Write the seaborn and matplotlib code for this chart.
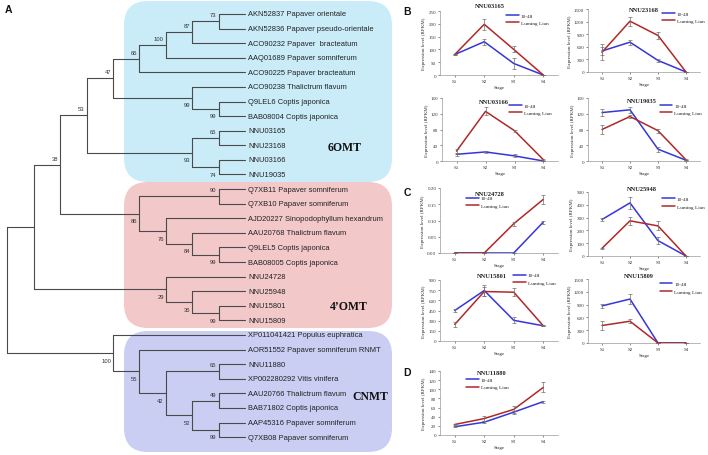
import matplotlib
matplotlib.use("Agg")
import matplotlib.pyplot as plt
from matplotlib.patches import FancyBboxPatch
from matplotlib.lines import Line2D
import numpy as np
import pandas as pd
import seaborn as sns

# ---------------- data: tree ----------------
leaf_names = [
    "AKN52837 Papaver orientale", "AKN52836 Papaver pseudo-orientale",
    "ACO90232 Papaver  bracteatum", "AAQ01689 Papaver somniferum",
    "ACO90225 Papaver bracteatum", "ACO90238 Thalictrum flavum",
    "Q9LEL6 Coptis japonica", "BAB08004 Coptis japonica",
    "NNU03165", "NNU23168", "NNU03166", "NNU19035",
    "Q7XB11 Papaver somniferum", "Q7XB10 Papaver somniferum",
    "AJD20227 Sinopodophyllum hexandrum", "AAU20768 Thalictrum flavum",
    "Q9LEL5 Coptis japonica", "BAB08005 Coptis japonica",
    "NNU24728", "NNU25948", "NNU15801", "NNU15809",
    "XP011041421 Populus euphratica", "AOR51552 Papaver somniferum RNMT",
    "NNU11880", "XP002280292 Vitis vinifera",
    "AAU20766 Thalictrum flavum", "BAB71802 Coptis japonica",
    "AAP45316 Papaver somniferum", "Q7XB08 Papaver somniferum",
]
clade_6omt = "((((((0,1)73,2)87,3)100,4)66,(5,(6,7)99)99)47,((8,9)65,(10,11)74)93)53"
clade_4omt_a = "((12,13)90,(14,(15,(16,17)99)84)76)86"
clade_4omt_b = "(18,(19,(20,21)99)36)29"
clade_cnmt = "(22,(23,((24,25)65,((26,27)49,(28,29)99)52)42)55)100"
tree_newick = "(((" + clade_6omt + "," + clade_4omt_a + ")38," + clade_4omt_b + ")," + clade_cnmt + ")"
group_names = ["6OMT", "4\u2019OMT", "CNMT"]

# ---------------- data: expression ----------------
stages = ["S1", "S2", "S3", "S4"]
series_names = ["10-48", "Luming Lian"]
genes = ["NNU03165", "NNU23168", "NNU03166", "NNU19035", "NNU24728",
         "NNU25948", "NNU15801", "NNU15809", "NNU11880"]
v_1048 = [
    [80, 130, 45, 0], [500, 710, 275, 0], [17, 23, 13, 0], [123, 130, 30, 2],
    [0, 0, 0, 0.095], [285, 415, 120, 0], [450, 745, 305, 225],
    [870, 1030, 0, 0], [18, 28, 50, 73],
]
e_1048 = [
    [3, 12, 22, 0], [90, 60, 40, 0], [4, 2, 4, 0], [8, 7, 6, 1],
    [0, 0, 0, 0.005], [15, 45, 25, 0], [15, 80, 45, 10],
    [40, 120, 0, 0], [1, 2, 3, 2],
]
v_lml = [
    [80, 198, 100, 0], [470, 1210, 870, 0], [25, 126, 77, 3], [80, 113, 77, 3],
    [0, 0, 0.09, 0.165], [60, 275, 235, 0], [245, 730, 720, 225],
    [410, 510, 0, 0], [23, 36, 56, 104],
]
e_lml = [
    [3, 22, 12, 0], [190, 110, 80, 0], [6, 10, 3, 1], [12, 5, 5, 1],
    [0, 0, 0.006, 0.015], [5, 30, 35, 0], [35, 60, 60, 10],
    [100, 50, 0, 0], [2, 5, 8, 11],
]
y_max = [250, 1500, 160, 160, 0.2, 500, 900, 1500, 140]
y_step = [50, 300, 40, 40, 0.05, 100, 150, 300, 20]

# ---------------- style ----------------
sns.set_theme(style="white")
plt.rcParams["font.family"] = ["Liberation Sans", "DejaVu Sans"]

W, H = 708, 456
fig = plt.figure(figsize=(W / 100, H / 100), dpi=100)

# ---------------- tree panel ----------------
axT = fig.add_axes([0, 0, 1, 1])
axT.set_xlim(0, W)
axT.set_ylim(H, 0)
axT.axis("off")

boxes = [(124, 2, 268, 181, "#c9ecf8"), (124, 183, 268, 146, "#f3c8c9"),
         (124, 332, 268, 121, "#c9cef2")]
for bx, by, bw, bh, col in boxes:
    axT.add_patch(FancyBboxPatch((bx, by), bw, bh,
                                 boxstyle="round,pad=0,rounding_size=24",
                                 fc=col, ec="none", zorder=0))


def parse(s, i=0):
    if s[i] == "(":
        kids = []
        i += 1
        while True:
            child, i = parse(s, i)
            kids.append(child)
            if s[i] == ",":
                i += 1
                continue
            if s[i] == ")":
                i += 1
                break
        j = i
        while i < len(s) and s[i] not in ",)":
            i += 1
        return {"kids": kids, "sup": s[j:i]}, i
    j = i
    while s[i] not in ",)":
        i += 1
    return int(s[j:i]), i


root, _ = parse(tree_newick)
LEAF_X, STEP_X, Y0, STEP_Y = 245, 26.4, 15, 14.59
line_col = "#4a4a4a"


def layout(node):
    if isinstance(node, int):
        return LEAF_X, Y0 + STEP_Y * node, 0
    res = [layout(k) for k in node["kids"]]
    h = max(r[2] for r in res) + 1
    x = LEAF_X - STEP_X * h
    y = (res[0][1] + res[-1][1]) / 2
    axT.plot([x, x], [res[0][1], res[-1][1]], color=line_col, lw=0.8, zorder=2)
    for k_i, (cx, cy, _) in enumerate(res):
        axT.plot([x, cx], [cy, cy], color=line_col, lw=0.8, zorder=2)
        kid = node["kids"][k_i]
        if not isinstance(kid, int) and kid["sup"]:
            dy = -6.5 if k_i == 0 else 7
            axT.text(cx - 2, cy + dy, kid["sup"], ha="right", va="center",
                     fontsize=4.2, color="#333333", zorder=3)
    return x, y, h


layout(root)
for i, name in enumerate(leaf_names):
    axT.text(LEAF_X + 3, Y0 + STEP_Y * i, name, ha="left", va="center",
             fontsize=5.4, color="#222222", zorder=3)

for (gx, gy), g in zip([(328, 148), (330, 307), (352, 397)], group_names):
    axT.text(gx, gy, g, ha="left", va="center", fontsize=8.5,
             fontweight="bold", family=["Liberation Serif", "DejaVu Serif"],
             color="#111111")

for (px, py), lab in zip([(8, 10), (407, 12), (407, 193), (407, 373)],
                         ["A", "B", "C", "D"]):
    axT.text(px, py, lab, ha="center", va="center", fontsize=7.5,
             fontweight="bold", color="#111111")

# ---------------- expression panels ----------------
rects = [(440, 12, 558, 76), (588, 10, 700, 73),
         (442, 99, 558, 162), (588, 99, 700, 162),
         (440, 189, 558, 254), (588, 193, 700, 257),
         (440, 281, 558, 342), (588, 280, 700, 344),
         (440, 372, 558, 436)]
title_pos = [(0.42, 1.09), (0.5, 1.0), (0.45, 0.94), (0.48, 0.96), (0.42, 0.92),
             (0.48, 1.05), (0.44, 1.07), (0.45, 1.05), (0.44, 0.97)]
leg_pos = [(0.56, 0.97), (0.66, 0.97), (0.58, 0.92), (0.64, 0.92), (0.22, 0.88),
           (0.66, 0.93), (0.62, 1.12), (0.64, 0.96), (0.22, 0.9)]
palette = {"10-48": "#3636d8", "Luming Lian": "#b02828"}
serif = ["Liberation Serif", "DejaVu Serif"]

for k, gene in enumerate(genes):
    x0, y0, x1, y1 = rects[k]
    ax = fig.add_axes([x0 / W, 1 - y1 / H, (x1 - x0) / W, (y1 - y0) / H])
    df = pd.DataFrame({
        "stage": list(range(4)) * 2,
        "value": v_1048[k] + v_lml[k],
        "err": e_1048[k] + e_lml[k],
        "series": [series_names[0]] * 4 + [series_names[1]] * 4,
    })
    sns.lineplot(data=df, x="stage", y="value", hue="series", palette=palette,
                 hue_order=series_names, ax=ax, legend=False, lw=1.1,
                 errorbar=None, sort=False)
    for s in series_names:
        d = df[df.series == s]
        ax.errorbar(d.stage, d.value, yerr=d.err, fmt="none", ecolor="#6e6e6e",
                    elinewidth=0.5, capsize=1.2, capthick=0.5, zorder=3)
    ax.set_xlim(-0.5, 3.5)
    ax.set_ylim(0, y_max[k])
    ax.set_yticks(np.arange(0, y_max[k] + y_step[k] / 2, y_step[k]))
    ax.set_xticks(range(4))
    ax.set_xticklabels(stages)
    ax.tick_params(labelsize=3.6, length=1.2, width=0.4, pad=1.5,
                   colors="#333333", left=True, bottom=True)
    for t in ax.get_xticklabels() + ax.get_yticklabels():
        t.set_family(serif)
    for sp in ["top", "right"]:
        ax.spines[sp].set_visible(False)
    for sp in ["left", "bottom"]:
        ax.spines[sp].set_color("#9a9a9a")
        ax.spines[sp].set_linewidth(0.5)
    ax.set_xlabel("Stage", fontsize=3.6, family=serif, labelpad=1.5)
    ax.set_ylabel("Expression level (RPKM)", fontsize=3.6, family=serif,
                  labelpad=1.5)
    tx, ty = title_pos[k]
    ax.text(tx, ty, gene, transform=ax.transAxes, ha="center", va="center",
            fontsize=4.6, family=serif, fontweight="bold", color="#222222")
    handles = [Line2D([], [], color=palette[s], lw=1.1) for s in series_names]
    ax.legend(handles, series_names, loc="upper left", bbox_to_anchor=leg_pos[k],
              frameon=False, prop={"family": serif, "size": 3.8},
              handlelength=2.4, handletextpad=0.4, labelspacing=0.5,
              borderaxespad=0, borderpad=0)

fig.savefig("out.png", dpi=100)
